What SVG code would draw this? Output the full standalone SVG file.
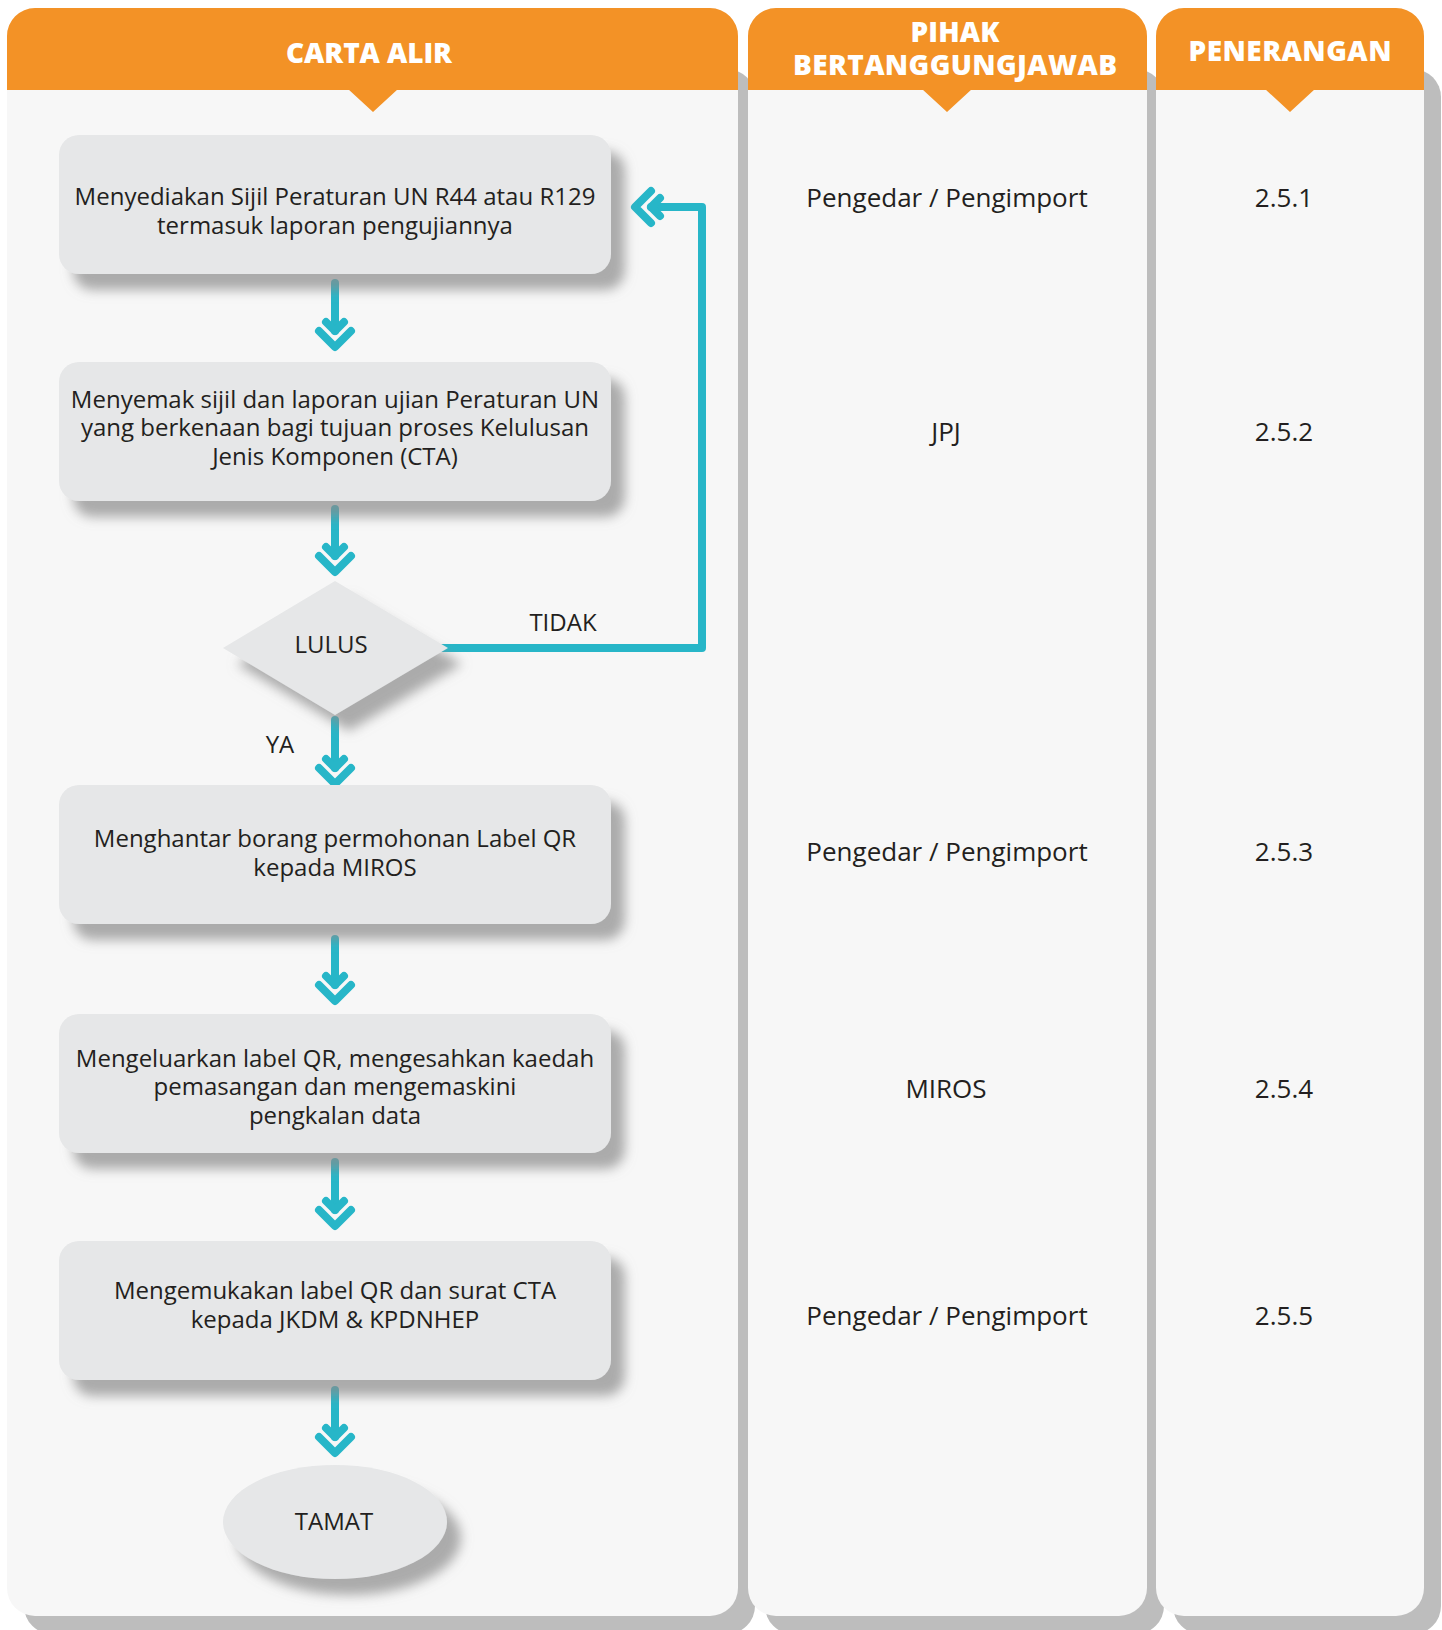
<svg xmlns="http://www.w3.org/2000/svg" width="1442" height="1630" viewBox="0 0 1442 1630">
<defs>
<style>
.pshadow{fill:#BDBDBD}
.panel{fill:#F7F7F7}
.head{fill:#F39226}
.htxt{font-family:"Open Sans","Liberation Sans",sans-serif;font-weight:800;font-size:28px;fill:#FFFFFF;text-anchor:middle}
.node{fill:#E6E7E8;filter:url(#sh)}
.txt{font-family:"Open Sans","Liberation Sans",sans-serif;font-size:24px;fill:#231F20;text-anchor:middle}
.ctxt{font-family:"Open Sans","Liberation Sans",sans-serif;font-size:26px;fill:#231F20;text-anchor:middle}
.conn{fill:none;stroke:#27B6C8;stroke-width:8;stroke-linecap:round;stroke-linejoin:round}
</style>
<filter id="sh" x="-10%" y="-20%" width="130%" height="160%">
<feDropShadow dx="14" dy="16" stdDeviation="6" flood-color="#8a8a8a" flood-opacity="0.7"/>
</filter>
<marker id="chev" markerUnits="userSpaceOnUse" viewBox="-30 -30 60 60" markerWidth="60" markerHeight="60" refX="0" refY="0" orient="auto" overflow="visible">
<path d="M-9,-9 L0,0 L-9,9 M0,-16 L16,0 L0,16" fill="none" stroke="#27B6C8" stroke-width="8" stroke-linecap="round" stroke-linejoin="round"/>
</marker>
</defs>
<rect width="1442" height="1630" fill="#FFFFFF"/>

<g id="col-carta">
<rect class="pshadow" x="24" y="69" width="731" height="1565" rx="28"/>
<rect class="panel" x="7" y="8" width="731" height="1608" rx="28"/>
<path class="head" d="M7,90 V36 A28,28 0 0 1 35,8 H710 A28,28 0 0 1 738,36 V90 Z M348,89 H398 L373,112 Z"/>
<text class="htxt" x="369" y="63" textLength="166" lengthAdjust="spacing">CARTA ALIR</text>
</g>
<g id="col-pihak">
<rect class="pshadow" x="765" y="69" width="399" height="1565" rx="28"/>
<rect class="panel" x="748" y="8" width="399" height="1608" rx="28"/>
<path class="head" d="M748,90 V36 A28,28 0 0 1 776,8 H1119 A28,28 0 0 1 1147,36 V90 Z M922,89 H972 L947,112 Z"/>
<text class="htxt" x="955" y="42" textLength="89" lengthAdjust="spacing">PIHAK</text>
<text class="htxt" x="955" y="75" textLength="324" lengthAdjust="spacing">BERTANGGUNGJAWAB</text>
</g>
<g id="col-penerangan">
<rect class="pshadow" x="1173" y="69" width="268" height="1565" rx="28"/>
<rect class="panel" x="1156" y="8" width="268" height="1608" rx="28"/>
<path class="head" d="M1156,90 V36 A28,28 0 0 1 1184,8 H1396 A28,28 0 0 1 1424,36 V90 Z M1265,89 H1315 L1290,112 Z"/>
<text class="htxt" x="1290" y="61" textLength="203" lengthAdjust="spacing">PENERANGAN</text>
</g>

<g id="connectors">
<path class="conn" d="M335,283 V331" marker-end="url(#chev)"/>
<path class="conn" d="M335,509 V556" marker-end="url(#chev)"/>
<path class="conn" d="M335,720 V768" marker-end="url(#chev)"/>
<path class="conn" d="M335,939 V985" marker-end="url(#chev)"/>
<path class="conn" d="M335,1162 V1210" marker-end="url(#chev)"/>
<path class="conn" d="M335,1390 V1437" marker-end="url(#chev)"/>
<path class="conn" d="M440,648 H702 V207 H651" marker-end="url(#chev)"/>
<text class="txt" x="563" y="631">TIDAK</text>
<text class="txt" x="280" y="753">YA</text>
</g>

<g id="n1">
<rect class="node" x="59" y="135" width="552" height="139" rx="20"/>
<text class="txt" x="335" y="205">Menyediakan Sijil Peraturan UN R44 atau R129</text>
<text class="txt" x="335" y="233.5">termasuk laporan pengujiannya</text>
</g>
<g id="n2">
<rect class="node" x="59" y="362" width="552" height="139" rx="20"/>
<text class="txt" x="335" y="407.5">Menyemak sijil dan laporan ujian Peraturan UN</text>
<text class="txt" x="335" y="436">yang berkenaan bagi tujuan proses Kelulusan</text>
<text class="txt" x="335" y="464.5">Jenis Komponen (CTA)</text>
</g>
<g id="lulus">
<polygon class="node" points="335,581 448,648 335,715 223,648"/>
<text class="txt" x="331" y="653">LULUS</text>
</g>
<g id="n3">
<rect class="node" x="59" y="785" width="552" height="139" rx="20"/>
<text class="txt" x="335" y="847">Menghantar borang permohonan Label QR</text>
<text class="txt" x="335" y="875.5">kepada MIROS</text>
</g>
<g id="n4">
<rect class="node" x="59" y="1014" width="552" height="139" rx="20"/>
<text class="txt" x="335" y="1066.5">Mengeluarkan label QR, mengesahkan kaedah</text>
<text class="txt" x="335" y="1095">pemasangan dan mengemaskini</text>
<text class="txt" x="335" y="1123.5">pengkalan data</text>
</g>
<g id="n5">
<rect class="node" x="59" y="1241" width="552" height="139" rx="20"/>
<text class="txt" x="335" y="1299">Mengemukakan label QR dan surat CTA</text>
<text class="txt" x="335" y="1328">kepada JKDM &amp; KPDNHEP</text>
</g>
<g id="tamat">
<ellipse class="node" cx="335" cy="1522" rx="112" ry="57"/>
<text class="txt" x="334" y="1530">TAMAT</text>
</g>

<g id="pihak-texts">
<text class="ctxt" x="947" y="207">Pengedar / Pengimport</text>
<text class="ctxt" x="946" y="440.5">JPJ</text>
<text class="ctxt" x="947" y="861">Pengedar / Pengimport</text>
<text class="ctxt" x="946" y="1098">MIROS</text>
<text class="ctxt" x="947" y="1324.5">Pengedar / Pengimport</text>
</g>
<g id="penerangan-texts">
<text class="ctxt" x="1284" y="207">2.5.1</text>
<text class="ctxt" x="1284" y="440.5">2.5.2</text>
<text class="ctxt" x="1284" y="861">2.5.3</text>
<text class="ctxt" x="1284" y="1098">2.5.4</text>
<text class="ctxt" x="1284" y="1324.5">2.5.5</text>
</g>
</svg>
